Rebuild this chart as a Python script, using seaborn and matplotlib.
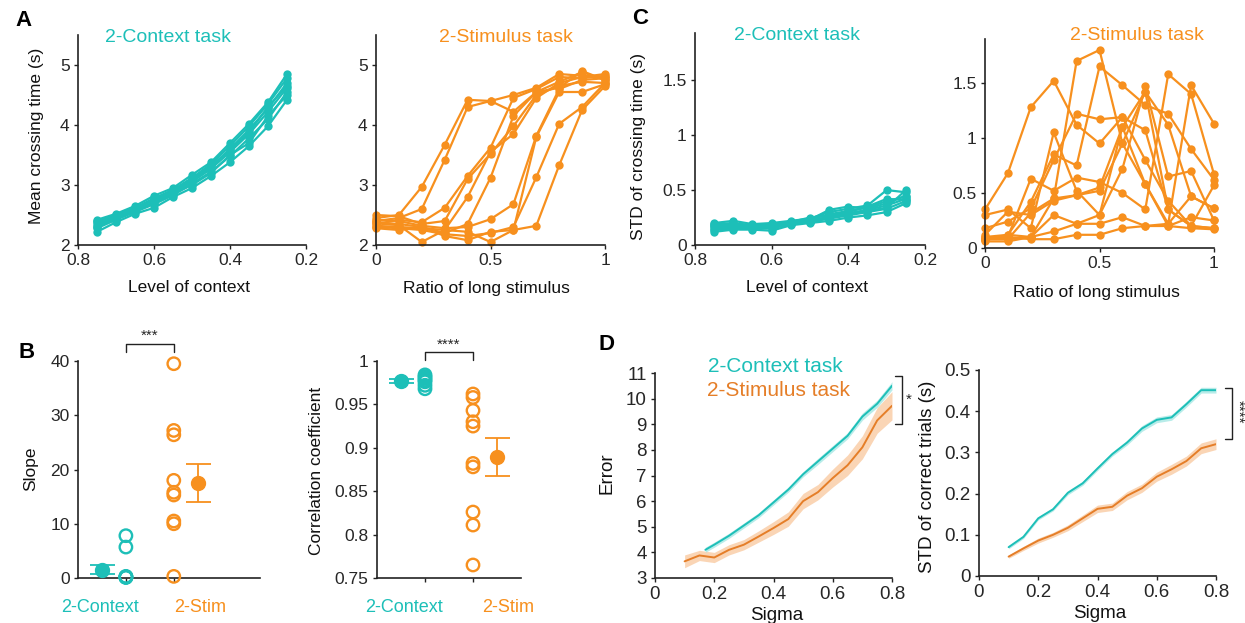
import numpy as np
import pandas as pd
import matplotlib
matplotlib.use("Agg")
import matplotlib.pyplot as plt
import seaborn as sns

sns.set_style("ticks")
plt.rcParams["font.family"] = ["Liberation Sans", "DejaVu Sans"]

CYAN = "#1DBFB8"
ORANGE = "#F7901E"
D_ORANGE = "#E57E28"
D_ORANGE_BAND = "#F9CBA3"
D_CYAN_BAND = "#A6E8E4"

# ---------------- data ----------------
context_levels = [0.75, 0.70, 0.65, 0.60, 0.55, 0.50, 0.45, 0.40, 0.35, 0.30, 0.25]
ratio_levels = [0.0, 0.1, 0.2, 0.3, 0.4, 0.5, 0.6, 0.7, 0.8, 0.9, 1.0]

ctx_mean_time = [
    [2.22, 2.38, 2.52, 2.62, 2.80, 2.95, 3.15, 3.38, 3.65, 3.98, 4.42],
    [2.28, 2.42, 2.55, 2.68, 2.83, 3.02, 3.22, 3.48, 3.78, 4.10, 4.55],
    [2.32, 2.45, 2.57, 2.72, 2.86, 3.05, 3.27, 3.55, 3.85, 4.22, 4.62],
    [2.35, 2.47, 2.60, 2.75, 2.88, 3.08, 3.30, 3.60, 3.92, 4.28, 4.70],
    [2.38, 2.50, 2.62, 2.78, 2.92, 3.12, 3.35, 3.65, 3.98, 4.35, 4.78],
    [2.42, 2.52, 2.65, 2.82, 2.95, 3.17, 3.38, 3.70, 4.02, 4.38, 4.85],
    [2.30, 2.44, 2.58, 2.70, 2.85, 3.00, 3.20, 3.50, 3.70, 4.15, 4.50],
    [2.40, 2.48, 2.62, 2.76, 2.90, 3.10, 3.32, 3.58, 3.88, 4.30, 4.65],
]

stim_mean_time = [
    [2.45, 2.50, 2.97, 3.67, 4.42, 4.40, 4.50, 4.62, 4.85, 4.82, 4.80],
    [2.40, 2.45, 2.60, 3.42, 4.30, 4.40, 4.22, 4.55, 4.72, 4.88, 4.75],
    [2.35, 2.42, 2.38, 2.62, 3.15, 3.62, 4.45, 4.60, 4.80, 4.78, 4.82],
    [2.50, 2.48, 2.35, 2.40, 3.10, 3.52, 3.98, 4.50, 4.65, 4.72, 4.70],
    [2.32, 2.30, 2.28, 2.25, 2.80, 3.55, 3.85, 4.45, 4.70, 4.80, 4.85],
    [2.38, 2.35, 2.30, 2.20, 2.35, 3.12, 4.15, 4.55, 4.62, 4.90, 4.75],
    [2.42, 2.40, 2.32, 2.28, 2.30, 2.43, 2.68, 3.82, 4.60, 4.75, 4.78],
    [2.30, 2.28, 2.25, 2.18, 2.15, 2.20, 2.30, 3.13, 4.02, 4.30, 4.70],
    [2.36, 2.33, 2.05, 2.25, 2.22, 2.05, 2.25, 2.32, 3.33, 4.25, 4.65],
    [2.28, 2.25, 2.30, 2.15, 2.08, 2.22, 2.25, 3.80, 4.55, 4.55, 4.68],
]

ctx_std_time = [
    [0.12, 0.14, 0.14, 0.13, 0.18, 0.20, 0.22, 0.25, 0.27, 0.30, 0.38],
    [0.15, 0.16, 0.16, 0.16, 0.19, 0.21, 0.24, 0.27, 0.30, 0.33, 0.40],
    [0.17, 0.18, 0.17, 0.17, 0.20, 0.22, 0.26, 0.29, 0.32, 0.36, 0.42],
    [0.19, 0.20, 0.18, 0.19, 0.21, 0.23, 0.28, 0.31, 0.34, 0.40, 0.44],
    [0.20, 0.22, 0.19, 0.20, 0.22, 0.24, 0.30, 0.33, 0.36, 0.50, 0.48],
    [0.14, 0.15, 0.15, 0.15, 0.19, 0.21, 0.25, 0.28, 0.31, 0.34, 0.50],
    [0.16, 0.17, 0.16, 0.18, 0.20, 0.23, 0.32, 0.35, 0.33, 0.38, 0.45],
    [0.18, 0.19, 0.17, 0.18, 0.21, 0.25, 0.27, 0.30, 0.35, 0.42, 0.41],
]

stim_std_time = [
    [0.35, 0.68, 1.28, 1.52, 1.12, 0.95, 1.19, 1.07, 0.35, 0.20, 0.18],
    [0.10, 0.08, 0.32, 0.45, 1.70, 1.80, 0.95, 0.58, 0.20, 0.28, 0.25],
    [0.07, 0.12, 0.42, 0.85, 0.75, 1.65, 1.48, 1.30, 1.22, 0.90, 0.62],
    [0.30, 0.35, 0.18, 1.05, 0.52, 0.30, 1.10, 1.42, 1.12, 0.47, 0.36],
    [0.18, 0.24, 0.36, 0.80, 1.22, 1.17, 1.19, 0.80, 0.43, 0.20, 0.57],
    [0.08, 0.10, 0.63, 0.52, 0.64, 0.60, 0.50, 0.35, 1.58, 1.40, 0.67],
    [0.06, 0.06, 0.10, 0.30, 0.22, 0.22, 0.28, 0.20, 0.22, 1.48, 1.13],
    [0.08, 0.10, 0.08, 0.08, 0.12, 0.12, 0.18, 0.20, 0.20, 0.18, 0.17],
    [0.10, 0.12, 0.10, 0.15, 0.22, 0.30, 0.72, 1.47, 0.65, 0.70, 0.25],
    [0.12, 0.33, 0.30, 0.43, 0.48, 0.52, 0.95, 1.42, 0.35, 0.20, 0.18],
    [0.08, 0.08, 0.10, 0.45, 0.48, 0.55, 1.10, 0.58, 0.22, 0.47, 0.36],
]

slope_ctx = [0.1, 0.2, 0.15, 0.3, 0.2, 5.7, 7.8]
slope_stim = [39.5, 27.2, 26.4, 18.0, 15.8, 15.3, 10.5, 10.0, 0.3]
slope_ctx_mean, slope_ctx_lo, slope_ctx_hi = 1.5, 0.7, 2.4
slope_stim_mean, slope_stim_lo, slope_stim_hi = 17.5, 14.0, 21.0

corr_ctx = [0.984, 0.982, 0.980, 0.978, 0.976, 0.972, 0.968]
corr_stim = [0.962, 0.958, 0.943, 0.930, 0.925, 0.882, 0.878, 0.826, 0.811, 0.765]
corr_ctx_mean, corr_ctx_lo, corr_ctx_hi = 0.977, 0.975, 0.979
corr_stim_mean, corr_stim_lo, corr_stim_hi = 0.889, 0.867, 0.911

sigma_stim = [0.10, 0.15, 0.20, 0.25, 0.30, 0.35, 0.40, 0.45, 0.50, 0.55, 0.60, 0.65, 0.70, 0.75, 0.80]
sigma_ctx_err = [0.17, 0.20, 0.25, 0.30, 0.35, 0.40, 0.45, 0.50, 0.55, 0.60, 0.65, 0.70, 0.75, 0.80]
err_ctx = [4.10, 4.30, 4.65, 5.05, 5.45, 5.95, 6.45, 7.05, 7.55, 8.05, 8.55, 9.30, 9.80, 10.50]
err_ctx_sem = [0.10, 0.10, 0.10, 0.10, 0.10, 0.10, 0.10, 0.10, 0.12, 0.12, 0.12, 0.14, 0.14, 0.16]
err_stim = [3.65, 3.88, 3.80, 4.10, 4.30, 4.62, 4.95, 5.30, 6.00, 6.35, 6.90, 7.40, 8.10, 9.15, 9.72]
err_stim_sem = [0.25, 0.20, 0.20, 0.20, 0.20, 0.22, 0.25, 0.28, 0.30, 0.30, 0.35, 0.40, 0.45, 0.50, 0.55]

sigma_std = [0.10, 0.15, 0.20, 0.25, 0.30, 0.35, 0.40, 0.45, 0.50, 0.55, 0.60, 0.65, 0.70, 0.75, 0.80]
std_ctx = [0.070, 0.095, 0.140, 0.162, 0.202, 0.225, 0.261, 0.296, 0.324, 0.358, 0.379, 0.385, 0.417, 0.451, 0.451]
std_ctx_sem = [0.004, 0.004, 0.004, 0.004, 0.005, 0.005, 0.005, 0.005, 0.006, 0.007, 0.007, 0.007, 0.007, 0.007, 0.007]
std_stim = [0.047, 0.067, 0.086, 0.100, 0.117, 0.140, 0.163, 0.168, 0.195, 0.213, 0.241, 0.259, 0.279, 0.310, 0.320]
std_stim_sem = [0.004, 0.005, 0.006, 0.006, 0.007, 0.008, 0.009, 0.009, 0.010, 0.010, 0.011, 0.012, 0.012, 0.013, 0.013]

# ---------------- figure ----------------
W, H = 1245, 623
fig = plt.figure(figsize=(W / 100, H / 100), dpi=100)


def px_axes(x0, x1, ytop, ybot):
    return fig.add_axes([x0 / W, 1 - ybot / H, (x1 - x0) / W, (ybot - ytop) / H])


def ftext(x, y, s, **kw):
    fig.text(x / W, 1 - y / H, s, ha=kw.pop("ha", "center"), va=kw.pop("va", "center"), **kw)


def style(ax, fs=12.5):
    sns.despine(ax=ax)
    for sp in ("left", "bottom"):
        ax.spines[sp].set_linewidth(1.2)
        ax.spines[sp].set_color("#222222")
    ax.tick_params(labelsize=fs, length=3, width=1, color="#222222", pad=3)


def long_df(x, curves):
    rows = []
    for i, c in enumerate(curves):
        for xi, yi in zip(x, c):
            rows.append((i, xi, yi))
    return pd.DataFrame(rows, columns=["unit", "x", "y"])


def spaghetti(ax, x, curves, color):
    sns.lineplot(data=long_df(x, curves), x="x", y="y", units="unit", estimator=None,
                 color=color, marker="o", markersize=6, markeredgecolor=color,
                 markeredgewidth=0, lw=1.6, ax=ax, legend=False, clip_on=False)
    ax.set_xlabel("")
    ax.set_ylabel("")


# Panel A left
axA1 = px_axes(78, 306, 35, 245)
spaghetti(axA1, context_levels, ctx_mean_time, CYAN)
axA1.set_xlim(0.8, 0.2)
axA1.set_ylim(2, 5.5)
axA1.set_xticks([0.8, 0.6, 0.4, 0.2])
axA1.set_xticklabels(["0.8", "0.6", "0.4", "0.2"])
axA1.set_yticks([2, 3, 4, 5])
style(axA1)

# Panel A right
axA2 = px_axes(376, 605, 35, 245)
spaghetti(axA2, ratio_levels, stim_mean_time, ORANGE)
axA2.set_xlim(0, 1)
axA2.set_ylim(2, 5.5)
axA2.set_xticks([0, 0.5, 1])
axA2.set_xticklabels(["0", "0.5", "1"])
axA2.set_yticks([2, 3, 4, 5])
style(axA2)

# Panel C left
axC1 = px_axes(695, 925, 33, 245)
spaghetti(axC1, context_levels, ctx_std_time, CYAN)
axC1.set_xlim(0.8, 0.2)
axC1.set_ylim(0, 1.93)
axC1.set_xticks([0.8, 0.6, 0.4, 0.2])
axC1.set_xticklabels(["0.8", "0.6", "0.4", "0.2"])
axC1.set_yticks([0, 0.5, 1, 1.5])
axC1.set_yticklabels(["0", "0.5", "1", "1.5"])
style(axC1)

# Panel C right
axC2 = px_axes(985, 1214, 39, 248)
spaghetti(axC2, ratio_levels, stim_std_time, ORANGE)
axC2.set_xlim(0, 1)
axC2.set_ylim(0, 1.9)
axC2.set_xticks([0, 0.5, 1])
axC2.set_xticklabels(["0", "0.5", "1"])
axC2.set_yticks([0, 0.5, 1, 1.5])
axC2.set_yticklabels(["0", "0.5", "1", "1.5"])
style(axC2)


# Panel B
def dots(ax, pos, vals, mean, lo, hi, mean_pos, color):
    sns.scatterplot(x=[pos] * len(vals), y=vals, ax=ax, s=80, linewidth=1.7,
                    legend=False, clip_on=False, zorder=3)
    pc = ax.collections[-1]
    pc.set_facecolor("none")
    pc.set_edgecolor(color)
    ax.errorbar([mean_pos], [mean], yerr=[[mean - lo], [hi - mean]], fmt="o", color=color,
                ms=10, capsize=9, elinewidth=1.3, capthick=1.3, clip_on=False, zorder=4)


axB1 = px_axes(78, 260, 361, 578)
dots(axB1, 1, slope_ctx, slope_ctx_mean, slope_ctx_lo, slope_ctx_hi, 0.5, CYAN)
dots(axB1, 2, slope_stim, slope_stim_mean, slope_stim_lo, slope_stim_hi, 2.5, ORANGE)
axB1.set_xlim(0, 3.8)
axB1.set_ylim(0, 40)
axB1.set_yticks([0, 10, 20, 30, 40])
axB1.set_xticks([1, 2])
axB1.set_xticklabels([])
style(axB1)
axB1.plot([1, 1, 2, 2], [41.6, 43.1, 43.1, 41.6], color="#222222", lw=1, clip_on=False)
axB1.text(1.5, 43.3, "***", ha="center", va="bottom", fontsize=11)

axB2 = px_axes(377, 521, 361, 578)
dots(axB2, 1, corr_ctx, corr_ctx_mean, corr_ctx_lo, corr_ctx_hi, 0.5, CYAN)
dots(axB2, 2, corr_stim, corr_stim_mean, corr_stim_lo, corr_stim_hi, 2.5, ORANGE)
axB2.set_xlim(0, 3)
axB2.set_ylim(0.75, 1.0)
axB2.set_yticks([0.75, 0.8, 0.85, 0.9, 0.95, 1.0])
axB2.set_yticklabels(["0.75", "0.8", "0.85", "0.9", "0.95", "1"])
axB2.set_xticks([1, 2])
axB2.set_xticklabels([])
style(axB2)
axB2.plot([1, 1, 2, 2], [1.0015, 1.0105, 1.0105, 1.0015], color="#222222", lw=1, clip_on=False)
axB2.text(1.5, 1.011, "****", ha="center", va="bottom", fontsize=11)

# Panel D left
axD1 = px_axes(655, 892, 373, 578)
axD1.fill_between(sigma_stim, np.array(err_stim) - np.array(err_stim_sem),
                  np.array(err_stim) + np.array(err_stim_sem), color=D_ORANGE_BAND, lw=0, alpha=0.8)
axD1.fill_between(sigma_ctx_err, np.array(err_ctx) - np.array(err_ctx_sem),
                  np.array(err_ctx) + np.array(err_ctx_sem), color=D_CYAN_BAND, lw=0, alpha=0.8)
sns.lineplot(x=sigma_stim, y=err_stim, ax=axD1, color=D_ORANGE, lw=1.4)
sns.lineplot(x=sigma_ctx_err, y=err_ctx, ax=axD1, color=CYAN, lw=1.4)
axD1.set_xlim(0, 0.8)
axD1.set_ylim(3, 11)
axD1.set_xticks([0, 0.2, 0.4, 0.6, 0.8])
axD1.set_xticklabels(["0", "0.2", "0.4", "0.6", "0.8"])
axD1.set_yticks(list(range(3, 12)))
style(axD1, fs=13.5)
axD1.plot([0.81, 0.835, 0.835, 0.81], [10.9, 10.9, 9.0, 9.0], color="#222222", lw=1, clip_on=False)
axD1.text(0.855, 9.95, "*", ha="center", va="center", fontsize=11, clip_on=False)

# Panel D right
axD2 = px_axes(979, 1216, 370, 576)
axD2.fill_between(sigma_std, np.array(std_stim) - np.array(std_stim_sem),
                  np.array(std_stim) + np.array(std_stim_sem), color=D_ORANGE_BAND, lw=0, alpha=0.8)
axD2.fill_between(sigma_std, np.array(std_ctx) - np.array(std_ctx_sem),
                  np.array(std_ctx) + np.array(std_ctx_sem), color=D_CYAN_BAND, lw=0, alpha=0.8)
sns.lineplot(x=sigma_std, y=std_stim, ax=axD2, color=D_ORANGE, lw=1.4)
sns.lineplot(x=sigma_std, y=std_ctx, ax=axD2, color=CYAN, lw=1.4)
axD2.set_xlim(0, 0.8)
axD2.set_ylim(0, 0.5)
axD2.set_xticks([0, 0.2, 0.4, 0.6, 0.8])
axD2.set_xticklabels(["0", "0.2", "0.4", "0.6", "0.8"])
axD2.set_yticks([0, 0.1, 0.2, 0.3, 0.4, 0.5])
axD2.set_yticklabels(["0", "0.1", "0.2", "0.3", "0.4", "0.5"])
style(axD2, fs=13.5)
axD2.plot([0.83, 0.854, 0.854, 0.83], [0.456, 0.456, 0.333, 0.333], color="#222222", lw=1, clip_on=False)
axD2.text(0.874, 0.398, "****", ha="center", va="center", fontsize=11, rotation=-90, clip_on=False)

# ---------------- labels & text ----------------
lab = dict(fontsize=12.5, color="#111111")
ftext(37, 136, "Mean crossing time (s)", rotation=90, **lab)
ftext(189, 288, "Level of context", **lab)
ftext(486, 288, "Ratio of long stimulus", **lab)
ftext(638, 146, "STD of crossing time (s)", rotation=90, **lab)
ftext(807, 288, "Level of context", **lab)
ftext(1096, 292, "Ratio of long stimulus", **lab)
ftext(31, 469, "Slope", rotation=90, **lab)
ftext(316, 471, "Correlation coefficient", rotation=90, **lab)
ftext(607, 473, "Error", rotation=90, fontsize=13.5, color="#111111")
ftext(777, 615, "Sigma", fontsize=13.5, color="#111111")
ftext(928, 477, "STD of correct trials (s)", rotation=90, fontsize=13.5, color="#111111")
ftext(1100, 613, "Sigma", fontsize=13.5, color="#111111")

ftext(168, 37, "2-Context task", fontsize=14, color=CYAN)
ftext(506, 37, "2-Stimulus task", fontsize=14, color=ORANGE)
ftext(797, 36, "2-Context task", fontsize=14, color=CYAN)
ftext(1137, 36, "2-Stimulus task", fontsize=14, color=ORANGE)
ftext(708, 366, "2-Context task", fontsize=15, color=CYAN, ha="left")
ftext(707, 391, "2-Stimulus task", fontsize=15, color=D_ORANGE, ha="left")

ftext(100, 607, "2-Context", fontsize=13, color=CYAN)
ftext(200, 607, "2-Stim", fontsize=13, color=ORANGE)
ftext(404, 607, "2-Context", fontsize=13, color=CYAN)
ftext(508, 607, "2-Stim", fontsize=13, color=ORANGE)

for s, x, y in [("A", 23, 20), ("B", 27, 352), ("C", 640, 18), ("D", 606, 345)]:
    ftext(x, y, s, fontsize=16, fontweight="bold", color="black")

fig.savefig("out.png", dpi=100)
